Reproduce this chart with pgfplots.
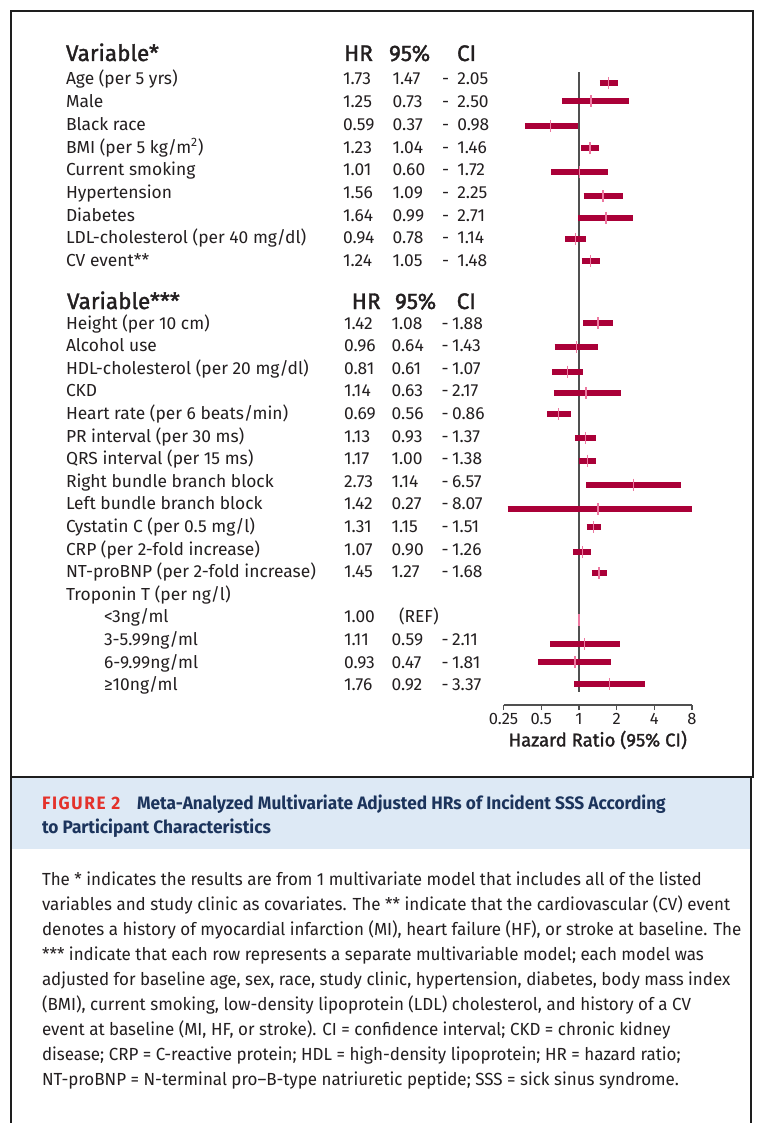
\documentclass[border=0pt]{standalone}
\usepackage{fontspec}
\usepackage{graphicx}
\usepackage{pgfplots}
\pgfplotsset{compat=1.18}
\setmainfont{Fira Sans}
\newfontfamily\hdrfont[FakeBold=1.5]{Fira Sans}
\newfontfamily\parafont[FakeStretch=0.97]{Fira Sans}
\newfontfamily\capfont[FakeStretch=0.96]{Fira Sans}
\definecolor{barc}{RGB}{170,0,56}
\definecolor{midc}{RGB}{236,120,160}
\definecolor{capblue}{RGB}{221,233,245}
\definecolor{capred}{RGB}{228,50,43}
\definecolor{capnavy}{RGB}{28,52,92}
\definecolor{framec}{RGB}{30,30,30}
\definecolor{txt}{RGB}{35,31,32}
\definecolor{refc}{RGB}{80,80,80}

\newcommand{\bodyfont}{\fontsize{17.4}{20}\selectfont}
\newcommand{\rowA}[5]{%
  \node[tx,anchor=base west] at (66,#1) {#2};
  \node[tx,anchor=base west] at (343,#1) {#3};
  \node[tx,anchor=base west] at (392.7,#1) {#4};
  \node[tx,anchor=base west] at (442,#1) {-};
  \node[tx,anchor=base west] at (457.3,#1) {#5};}
\newcommand{\rowB}[5]{%
  \node[tx,anchor=base west] at (66,#1) {#2};
  \node[tx,anchor=base west] at (344,#1) {#3};
  \node[tx,anchor=base west] at (391.7,#1) {#4};
  \node[tx,anchor=base west] at (441.5,#1) {-};
  \node[tx,anchor=base west] at (452,#1) {#5};}

\begin{document}
\begin{tikzpicture}[x=1pt,y=-1pt,
  tx/.style={inner sep=0pt, outer sep=0pt, text=txt, font=\bodyfont},
  hd/.style={inner sep=0pt, outer sep=0pt, text=txt, font=\hdrfont\fontsize{22.5}{24}\selectfont},
  pl/.style={inner sep=0pt, outer sep=0pt, text=txt, anchor=base west, font=\parafont\fontsize{17.5}{20}\selectfont},
  cp/.style={inner sep=0pt, outer sep=0pt, anchor=base west, font=\capfont\bfseries\fontsize{18}{20}\selectfont}]
\useasboundingbox (0,0) rectangle (756,1123);
\fill[white] (0,0) rectangle (756,1123);

% frame
\fill[capblue] (12,778) rectangle (750.5,849);
\draw[framec, line width=2pt] (11,777) -- (11,11) -- (752.5,11) -- (752.5,777);
\draw[framec, line width=2.5pt] (10,777) -- (753.5,777);
\draw[framec, line width=2pt] (11,777) -- (11,1123);
\draw[framec, line width=2pt] (750.7,777) -- (750.7,1123);

% headers
\node[hd,anchor=base west] at (66,61) {Variable*};
\node[hd,anchor=base west] at (344,61) {HR};
\node[hd,anchor=base west] at (389,61) {95\%};
\node[hd,anchor=base west] at (457,61) {CI};
\node[hd,anchor=base west] at (67,309) {Variable***};
\node[hd,anchor=base west] at (351.7,309) {HR};
\node[hd,anchor=base west] at (395,309) {95\%};
\node[hd,anchor=base west] at (456.7,309) {CI};

% block 1
\rowA{85}{Age (per 5 yrs)}{1.73}{1.47}{2.05}
\rowA{107.7}{Male}{1.25}{0.73}{2.50}
\rowA{130.4}{Black race}{0.59}{0.37}{0.98}
\rowA{153.1}{BMI (per 5 kg/m\textsuperscript{2})}{1.23}{1.04}{1.46}
\rowA{175.8}{Current smoking}{1.01}{0.60}{1.72}
\rowA{198.5}{Hypertension}{1.56}{1.09}{2.25}
\rowA{221.2}{Diabetes}{1.64}{0.99}{2.71}
\rowA{243.9}{LDL-cholesterol (per 40 mg/dl)}{0.94}{0.78}{1.14}
\rowA{266.6}{CV event**}{1.24}{1.05}{1.48}

% block 2
\rowB{329}{Height (per 10 cm)}{1.42}{1.08}{1.88}
\rowB{351.6}{Alcohol use}{0.96}{0.64}{1.43}
\rowB{374.2}{HDL-cholesterol (per 20 mg/dl)}{0.81}{0.61}{1.07}
\rowB{396.8}{CKD}{1.14}{0.63}{2.17}
\rowB{419.4}{Heart rate (per 6 beats/min)}{0.69}{0.56}{0.86}
\rowB{442}{PR interval (per 30 ms)}{1.13}{0.93}{1.37}
\rowB{464.6}{QRS interval (per 15 ms)}{1.17}{1.00}{1.38}
\rowB{487.2}{Right bundle branch block}{2.73}{1.14}{6.57}
\rowB{509.8}{Left bundle branch block}{1.42}{0.27}{8.07}
\rowB{532.4}{Cystatin C (per 0.5 mg/l)}{1.31}{1.15}{1.51}
\rowB{555}{CRP (per 2-fold increase)}{1.07}{0.90}{1.26}
\rowB{577.6}{NT-proBNP (per 2-fold increase)}{1.45}{1.27}{1.68}
\node[tx,anchor=base west] at (66,600.2) {Troponin T (per ng/l)};
\node[tx,anchor=base west] at (104,622.8) {<3ng/ml};
\node[tx,anchor=base west] at (344,622.8) {1.00};
\node[tx,anchor=base west] at (399,622.8) {(REF)};
\rowB{645.4}{\hspace{38pt}3-5.99ng/ml}{1.11}{0.59}{2.11}
\rowB{668}{\hspace{38pt}6-9.99ng/ml}{0.93}{0.47}{1.81}
\rowB{690.6}{\hspace{38pt}≥10ng/ml}{1.76}{0.92}{3.37}

% forest plot
\begin{axis}[
  at={(503.5pt,-705pt)}, anchor=south west,
  scale only axis, width=188.5pt, height=645pt,
  xmode=log, log basis x=2, xmin=0.25, xmax=8,
  y dir=reverse, ymin=60, ymax=705,
  axis x line*=bottom, axis y line=none,
  xtick={0.25,0.5,1,2,4,8}, xticklabels={0.25,0.5,1,2,4,8},
  tick align=outside, major tick length=5pt,
  x axis line style={refc, line width=1.3pt},
  xtick style={refc, line width=1.3pt},
  ticklabel style={font=\fontsize{16.5}{16}\selectfont, text=txt},
  /pgf/number format/assume math mode=true,
  xlabel={Hazard Ratio (95\% CI)},
  xlabel style={font=\hdrfont\fontsize{18.5}{18}\selectfont, text=txt, yshift=1pt},
  clip=false,
]
\addplot[refc, line width=1.3pt] coordinates {(1,72) (1,692)};
\addplot[barc, line width=6pt, unbounded coords=jump] coordinates {
(1.47,83) (2.05,83) (nan,nan)
(0.73,101.4) (2.50,101.4) (nan,nan)
(0.37,126) (0.98,126) (nan,nan)
(1.04,148) (1.46,148) (nan,nan)
(0.60,172) (1.72,172) (nan,nan)
(1.09,196) (2.25,196) (nan,nan)
(0.99,217.5) (2.71,217.5) (nan,nan)
(0.78,239) (1.14,239) (nan,nan)
(1.05,261) (1.48,261) (nan,nan)
(1.08,323) (1.88,323) (nan,nan)
(0.64,347) (1.43,347) (nan,nan)
(0.61,371.6) (1.07,371.6) (nan,nan)
(0.63,393) (2.17,393) (nan,nan)
(0.56,414) (0.86,414) (nan,nan)
(0.93,438) (1.37,438) (nan,nan)
(1.00,460.5) (1.38,460.5) (nan,nan)
(1.14,484.7) (6.57,484.7) (nan,nan)
(0.27,509) (8.07,509) (nan,nan)
(1.15,527.4) (1.51,527.4) (nan,nan)
(0.90,552) (1.26,552) (nan,nan)
(1.27,573) (1.68,573) (nan,nan)
(0.59,644) (2.11,644) (nan,nan)
(0.47,662) (1.81,662) (nan,nan)
(0.92,684.3) (3.37,684.3)
};
\addplot[only marks, mark=|, mark size=6pt, mark options={midc, line width=1.4pt}] coordinates {
(1.73,83) (1.25,101.4) (0.59,126) (1.23,148) (1.01,172) (1.56,196) (1.64,217.5) (0.94,239) (1.24,261)
(1.42,323) (0.96,347) (0.81,371.6) (1.14,393) (0.69,414) (1.13,438) (1.17,460.5) (2.73,484.7) (1.42,509)
(1.31,527.4) (1.07,552) (1.45,573) (1.00,620) (1.11,644) (0.93,662) (1.76,684.3)
};
\end{axis}

% caption
\node[cp, text=capred] at (42,809) {\addfontfeature{LetterSpace=9}FIGURE 2};
\node[cp, text=capnavy] at (137,809) {Meta-Analyzed Multivariate Adjusted HRs of Incident SSS According};
\node[cp, text=capnavy] at (42,833) {to Participant Characteristics};

% paragraph
\node[pl] at (42,885) {The * indicates the results are from 1 multivariate model that includes all of the listed};
\node[pl] at (42,910) {variables and study clinic as covariates. The ** indicate that the cardiovascular (CV) event};
\node[pl] at (42,935) {denotes a history of myocardial infarction (MI), heart failure (HF), or stroke at baseline. The};
\node[pl] at (42,960) {*** indicate that each row represents a separate multivariable model; each model was};
\node[pl] at (42,985) {adjusted for baseline age, sex, race, study clinic, hypertension, diabetes, body mass index};
\node[pl] at (42,1010) {(BMI), current smoking, low-density lipoprotein (LDL) cholesterol, and history of a CV};
\node[pl] at (42,1035) {event at baseline (MI, HF, or stroke). CI = confidence interval; CKD = chronic kidney};
\node[pl] at (42,1060) {disease; CRP = C-reactive protein; HDL = high-density lipoprotein; HR = hazard ratio;};
\node[pl] at (42,1085) {NT-proBNP = N-terminal pro–B-type natriuretic peptide; SSS = sick sinus syndrome.};
\end{tikzpicture}
\end{document}
